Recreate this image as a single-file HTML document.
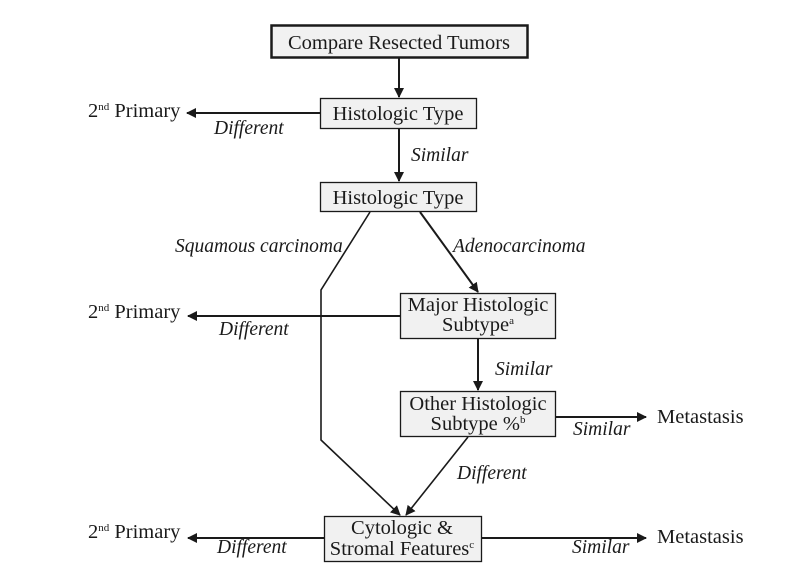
<!DOCTYPE html>
<html><head><meta charset="utf-8"><style>
body{margin:0;background:#fff}
svg{display:block}
text{font-family:"Liberation Serif",serif;fill:#1a1a1a}
.t{font-size:20.5px}
.i{font-size:19.5px;font-style:italic}
</style></head><body>
<svg width="795" height="576" viewBox="0 0 795 576" xmlns="http://www.w3.org/2000/svg">
<defs><marker id="a" markerWidth="10" markerHeight="10" refX="9" refY="5" orient="auto" markerUnits="userSpaceOnUse"><path d="M0,0 L10,5 L0,10 Z" fill="#1a1a1a"/></marker></defs>
<g stroke="#1a1a1a" fill="#f1f1f1">
<rect x="271.5" y="25.5" width="256" height="32" stroke-width="2.5"/>
<rect x="320.5" y="98.5" width="156" height="30" stroke-width="1.3"/>
<rect x="320.5" y="182.5" width="156" height="29" stroke-width="1.3"/>
<rect x="400.5" y="293.5" width="155" height="45" stroke-width="1.3"/>
<rect x="400.5" y="391.5" width="155" height="45" stroke-width="1.3"/>
<rect x="324.5" y="516.5" width="157" height="45" stroke-width="1.3"/>
</g>
<g stroke="#1a1a1a" stroke-width="2" fill="none" marker-end="url(#a)">
<line x1="399" y1="58" x2="399" y2="97"/>
<line x1="399" y1="129" x2="399" y2="181"/>
<line x1="320" y1="113" x2="187" y2="113"/>
<line x1="420" y1="212" x2="478" y2="292"/>
<polyline points="370,212 321,290 321,440 400,515" stroke-width="1.6"/>
<line x1="400" y1="316" x2="188" y2="316"/>
<line x1="478" y1="339" x2="478" y2="390"/>
<line x1="556" y1="417" x2="646" y2="417"/>
<line x1="468" y1="437" x2="406" y2="515" stroke-width="1.6"/>
<line x1="324" y1="538" x2="188" y2="538"/>
<line x1="482" y1="538" x2="646" y2="538"/>
</g>
<text class="t" x="399" y="49" text-anchor="middle" font-size="22.5">Compare Resected Tumors</text>
<text class="t" x="398" y="120" text-anchor="middle">Histologic Type</text>
<text class="t" x="398" y="204" text-anchor="middle">Histologic Type</text>
<text class="t" x="478" y="311" text-anchor="middle">Major Histologic</text>
<text class="t" x="478" y="331" text-anchor="middle">Subtype<tspan font-size="11" dy="-7">a</tspan></text>
<text class="t" x="478" y="410" text-anchor="middle">Other Histologic</text>
<text class="t" x="478" y="430" text-anchor="middle">Subtype %<tspan font-size="11" dy="-7">b</tspan></text>
<text class="t" x="402" y="534" text-anchor="middle">Cytologic &amp;</text>
<text class="t" x="402" y="555" text-anchor="middle">Stromal Features<tspan font-size="11" dy="-7">c</tspan></text>
<text class="t" x="88" y="117">2<tspan font-size="11" dy="-7">nd</tspan><tspan dy="7"> Primary</tspan></text>
<text class="t" x="88" y="318">2<tspan font-size="11" dy="-7">nd</tspan><tspan dy="7"> Primary</tspan></text>
<text class="t" x="88" y="538">2<tspan font-size="11" dy="-7">nd</tspan><tspan dy="7"> Primary</tspan></text>
<text class="t" x="657" y="423">Metastasis</text>
<text class="t" x="657" y="543" fill="#999">Metastasis</text>
<text class="i" x="214" y="134">Different</text>
<text class="i" x="411" y="161">Similar</text>
<text class="i" x="175" y="252">Squamous carcinoma</text>
<text class="i" x="453" y="252">Adenocarcinoma</text>
<text class="i" x="219" y="335">Different</text>
<text class="i" x="495" y="375">Similar</text>
<text class="i" x="573" y="435">Similar</text>
<text class="i" x="457" y="479">Different</text>
<text class="i" x="217" y="553">Different</text>
<text class="i" x="572" y="553">Similar</text>
</svg>
</body></html>
